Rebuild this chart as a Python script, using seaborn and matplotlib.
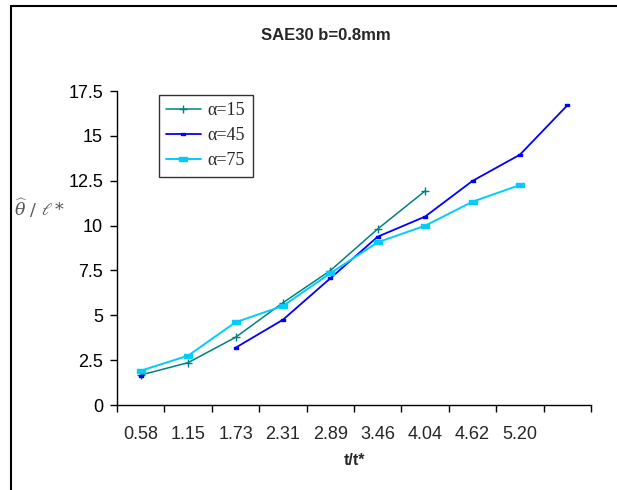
import numpy as np
import pandas as pd
import matplotlib
matplotlib.use("Agg")
import matplotlib.pyplot as plt
from matplotlib.lines import Line2D
import seaborn as sns

categories = ["0.58", "1.15", "1.73", "2.31", "2.89", "3.46", "4.04", "4.62", "5.20", ""]
a15 = [1.67, 2.36, 3.77, 5.70, 7.49, 9.81, 11.93, np.nan, np.nan, np.nan]
a45 = [1.62, np.nan, 3.19, 4.75, 7.06, 9.38, 10.50, 12.49, 13.95, 16.70]
a75 = [1.91, 2.75, 4.61, 5.52, 7.34, 9.07, 9.99, 11.33, 12.26, np.nan]
series_names = ["\u03b1=15", "\u03b1=45", "\u03b1=75"]
yticks = [0, 2.5, 5, 7.5, 10, 12.5, 15, 17.5]
ytick_labels = ["0", "2.5", "5", "7.5", "10", "12.5", "15", "17.5"]

colors = ["#008080", "#0000FF", "#00CCFF"]
rect_marker = [(-1, -0.5), (1, -0.5), (1, 0.5), (-1, 0.5), (-1, -0.5)]
markers = ["+", rect_marker, rect_marker]
msizes = [6, 3.5, 6]
lwidths = [1.1, 1.3, 1.4]

sns.set_style("white")
plt.rcParams["font.family"] = ["Liberation Sans", "DejaVu Sans"]

W, H = 617, 490
fig = plt.figure(figsize=(W / 100, H / 100), dpi=100)
left, right, top, bottom = 117, 591, 91, 405
ax = fig.add_axes([left / W, 1 - bottom / H, (right - left) / W, (bottom - top) / H])

for name, vals, c, m, ms, lw in zip(series_names, [a15, a45, a75], colors, markers, msizes, lwidths):
    v = np.array(vals, dtype=float)
    pos = np.arange(len(v))
    seg = np.cumsum(np.isnan(v))
    df = pd.DataFrame({"pos": pos, "val": v, "seg": seg})
    df = df[~np.isnan(df["val"])]
    sns.lineplot(data=df, x="pos", y="val", units="seg", estimator=None, ax=ax,
                 color=c, marker=m, markersize=ms, markeredgecolor=c,
                 markerfacecolor=c, markeredgewidth=1, linewidth=lw, legend=False)

ax.set_xlim(-0.5, len(categories) - 0.5)
ax.set_ylim(0, 17.5)
ax.set_xticks(np.arange(len(categories) + 1) - 0.5)
ax.set_xticklabels([])
ax.set_xticks(np.arange(len(categories)), minor=True)
ax.set_xticklabels(categories, minor=True, fontsize=13)
ax.tick_params(axis="x", which="minor", length=0, pad=15)
ax.tick_params(axis="x", which="major", length=5, width=1, color="black", direction="out")
ax.set_yticks(yticks)
ax.set_yticklabels(ytick_labels, fontsize=13)
ax.tick_params(axis="y", length=5, width=1, color="black", direction="out", pad=5)
ax.tick_params(axis="both", labelcolor="black")
ax.xaxis.set_ticks_position("bottom")
ax.yaxis.set_ticks_position("left")
for s in ["top", "right"]:
    ax.spines[s].set_visible(False)
for s in ["left", "bottom"]:
    ax.spines[s].set_color("black")
    ax.spines[s].set_linewidth(1)
ax.set_xlabel("")
ax.set_ylabel("")

fig.text(355 / W, 1 - 460 / H, "t/t*", ha="center", va="center", fontsize=11.5, fontweight="bold")
fig.text(326 / W, 1 - 36 / H, "SAE30 b=0.8mm", ha="center", va="center", fontsize=12, fontweight="bold")
fig.text(14 / W, 1 - 208 / H, r"$\widehat{\theta}\ /\ \ell*$", ha="left", va="center",
         fontsize=12.5, color="#555555", math_fontfamily="dejavuserif")

handles = [Line2D([0], [0], color=c, marker=m, markersize=ms, markeredgecolor=c,
                  markerfacecolor=c, markeredgewidth=1, linewidth=lw)
           for c, m, ms, lw in zip(colors, markers, msizes, lwidths)]
leg = ax.legend(handles, series_names, loc="upper left",
                bbox_to_anchor=((159 - left) / (right - left), (bottom - 95) / (bottom - top)),
                borderaxespad=0, frameon=True, fancybox=False, edgecolor="black",
                prop={"family": "Liberation Serif", "size": 13}, handlelength=1.9,
                labelspacing=0.45, borderpad=0.4, handletextpad=0.4)
leg.get_frame().set_linewidth(1)

fig.add_artist(Line2D([11 / W, 11 / W], [0, 1 - 6 / H], transform=fig.transFigure, color="black", linewidth=1.5))
fig.add_artist(Line2D([11 / W, 1], [1 - 6 / H, 1 - 6 / H], transform=fig.transFigure, color="black", linewidth=1.5))

fig.savefig("out.png", dpi=100)
